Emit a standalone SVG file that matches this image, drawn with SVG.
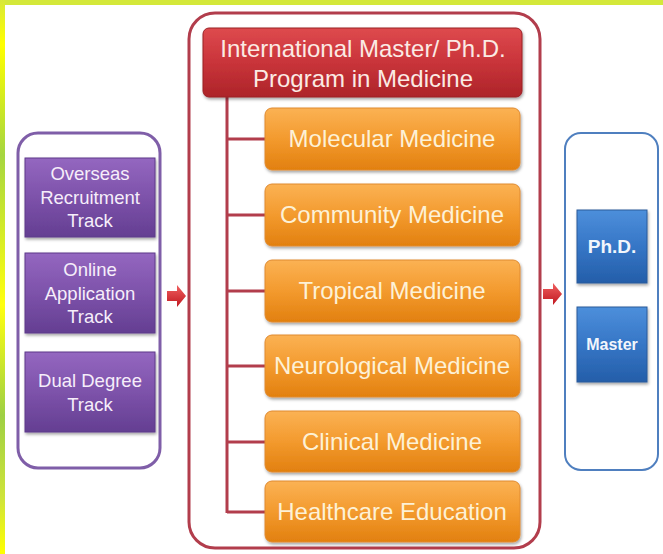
<svg xmlns="http://www.w3.org/2000/svg" width="663" height="554" viewBox="0 0 663 554">
<defs>
<linearGradient id="edge" x1="0" y1="0" x2="0" y2="1">
<stop offset="0" stop-color="#d8e838"/>
<stop offset="0.08" stop-color="#ffff00"/>
<stop offset="0.28" stop-color="#a6d640"/>
<stop offset="0.55" stop-color="#ffff10"/>
<stop offset="0.75" stop-color="#9ed044"/>
<stop offset="0.9" stop-color="#cfe43a"/>
<stop offset="1" stop-color="#ffff00"/>
</linearGradient>
<linearGradient id="org" x1="0" y1="0" x2="0" y2="1">
<stop offset="0" stop-color="#fbb254"/>
<stop offset="0.5" stop-color="#f39a2e"/>
<stop offset="1" stop-color="#e2800f"/>
</linearGradient>
<linearGradient id="red" x1="0" y1="0" x2="0" y2="1">
<stop offset="0" stop-color="#de4a4e"/>
<stop offset="0.5" stop-color="#c9343a"/>
<stop offset="1" stop-color="#ad2429"/>
</linearGradient>
<linearGradient id="pur" x1="0" y1="0" x2="0" y2="1">
<stop offset="0" stop-color="#9467c0"/>
<stop offset="0.5" stop-color="#7d52aa"/>
<stop offset="1" stop-color="#643e92"/>
</linearGradient>
<linearGradient id="blu" x1="0" y1="0" x2="0" y2="1">
<stop offset="0" stop-color="#4d8fdb"/>
<stop offset="0.5" stop-color="#3676c6"/>
<stop offset="1" stop-color="#245ea9"/>
</linearGradient>
<linearGradient id="arr" x1="0" y1="0" x2="0" y2="1">
<stop offset="0" stop-color="#f06060"/>
<stop offset="1" stop-color="#c01820"/>
</linearGradient>
<filter id="sh" x="-10%" y="-10%" width="120%" height="130%">
<feDropShadow dx="1" dy="2" stdDeviation="1.5" flood-color="#000" flood-opacity="0.35"/>
</filter>
<style>
.t{font-family:"Liberation Sans",Arial,sans-serif;text-anchor:middle;}
.ot{font-size:24px;fill:#fdf1d6;}
.pt{font-size:18.5px;fill:#f6eefa;}
.rt{font-size:24px;fill:#fbeae4;}
.bt{font-size:19px;fill:#f2f6fc;font-weight:bold;}
.ob{fill:url(#org);stroke:#e08a30;stroke-width:1;filter:url(#sh);}
.pb{fill:url(#pur);stroke:#5e3a8a;stroke-width:1;filter:url(#sh);}
.bb{fill:url(#blu);stroke:#2a5a9a;stroke-width:1;filter:url(#sh);}
.conn{stroke:#b23d4c;stroke-width:3;fill:none;}
</style>
</defs>
<rect width="663" height="554" fill="#ffffff"/>
<rect x="0" y="0" width="663" height="5" fill="#d4e83a"/>
<rect x="0" y="0" width="5" height="554" fill="url(#edge)"/>

<g id="left-container">
<rect x="18" y="133" width="142" height="335" rx="20" fill="#ffffff" stroke="#7f5ea8" stroke-width="3"/>
</g>
<g id="overseas">
<rect class="pb" x="25" y="158" width="130" height="79"/>
<text class="t pt" x="90" y="180">Overseas</text>
<text class="t pt" x="90" y="204">Recruitment</text>
<text class="t pt" x="90" y="227">Track</text>
</g>
<g id="online">
<rect class="pb" x="25" y="253" width="130" height="80"/>
<text class="t pt" x="90" y="276">Online</text>
<text class="t pt" x="90" y="300">Application</text>
<text class="t pt" x="90" y="323">Track</text>
</g>
<g id="dual">
<rect class="pb" x="25" y="352" width="130" height="80"/>
<text class="t pt" x="90" y="387">Dual Degree</text>
<text class="t pt" x="90" y="411">Track</text>
</g>

<g id="center-container">
<rect x="189" y="13" width="351" height="535" rx="26" fill="#ffffff" stroke="#b23d4c" stroke-width="3"/>
</g>

<g id="connectors">
<path class="conn" d="M227 97 V513 M227 139 H265 M227 215 H265 M227 291 H265 M227 366 H265 M227 442 H265 M227 512 H265"/>
<path d="M167 291 H177 V285 L186 296 L177 307 V301 H167 Z" fill="url(#arr)"/>
<path d="M543 289 H553 V283 L562 294 L553 305 V299 H543 Z" fill="url(#arr)"/>
</g>

<g id="header">
<rect x="203" y="28" width="319" height="69" rx="6" fill="url(#red)" stroke="#9a2025" stroke-width="1" filter="url(#sh)"/>
<text class="t rt" x="363" y="57">International Master/ Ph.D.</text>
<text class="t rt" x="363" y="87">Program in Medicine</text>
</g>
<g id="molecular">
<rect class="ob" x="265" y="108" width="255" height="62" rx="7"/>
<text class="t ot" x="392" y="147">Molecular Medicine</text>
</g>
<g id="community">
<rect class="ob" x="265" y="184" width="255" height="62" rx="7"/>
<text class="t ot" x="392" y="223">Community Medicine</text>
</g>
<g id="tropical">
<rect class="ob" x="265" y="260" width="255" height="62" rx="7"/>
<text class="t ot" x="392" y="299">Tropical Medicine</text>
</g>
<g id="neurological">
<rect class="ob" x="265" y="335" width="255" height="62" rx="7"/>
<text class="t ot" x="392" y="374">Neurological Medicine</text>
</g>
<g id="clinical">
<rect class="ob" x="265" y="411" width="255" height="61" rx="7"/>
<text class="t ot" x="392" y="450">Clinical Medicine</text>
</g>
<g id="healthcare">
<rect class="ob" x="265" y="481" width="255" height="61" rx="7"/>
<text class="t ot" x="392" y="520">Healthcare Education</text>
</g>

<g id="right-container">
<rect x="565" y="133" width="93" height="337" rx="16" fill="#ffffff" stroke="#4f7fbf" stroke-width="2"/>
</g>
<g id="phd">
<rect class="bb" x="577" y="210" width="70" height="73"/>
<text class="t bt" x="612" y="253">Ph.D.</text>
</g>
<g id="master">
<rect class="bb" x="577" y="307" width="70" height="75"/>
<text class="t bt" x="612" y="350" style="font-size:16px">Master</text>
</g>
</svg>
